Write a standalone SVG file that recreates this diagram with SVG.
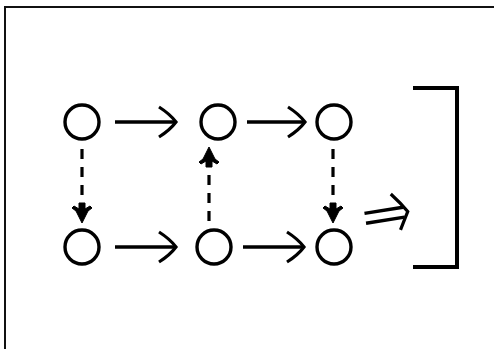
<svg xmlns="http://www.w3.org/2000/svg" width="494" height="349" viewBox="0 0 494 349">
  <style>
    .node { fill: none; stroke: #000; stroke-width: 3.4; }
    .edge { fill: none; stroke: #000; stroke-width: 3.4; }
    .dash { fill: none; stroke: #000; stroke-width: 3.2; stroke-dasharray: 10 8; }
    .head { fill: none; stroke: #000; stroke-width: 3.2; stroke-linecap: butt; }
    .fhead { fill: #000; stroke: #000; stroke-width: 1; }
  </style>
  <defs>
    <!-- curved open arrowhead, tip at origin pointing right -->
    <path id="ohead" d="M-17,-15 Q-6,-8 0,0 Q-6,8 -17,15"/>
    <!-- solid arrowhead for dashed arrows, tip at origin pointing down -->
    <path id="shead" d="M0,0 L-6,-12 L-10,-15 L-8,-17 L-3,-14 L-3,-20 L3,-20 L3,-14 L8,-17 L10,-15 L6,-12 Z"/>
  </defs>

  <rect x="5" y="7" width="520" height="380" fill="none" stroke="#111" stroke-width="2"/>

  <g id="connectors">
    <line class="edge" x1="115" y1="122" x2="176" y2="122"/>
    <use href="#ohead" class="head" transform="translate(176,122)"/>
    <line class="edge" x1="247" y1="122" x2="305" y2="122"/>
    <use href="#ohead" class="head" transform="translate(305,122)"/>
    <line class="edge" x1="115" y1="247" x2="176" y2="247"/>
    <use href="#ohead" class="head" transform="translate(176,247)"/>
    <line class="edge" x1="243" y1="247" x2="304" y2="247"/>
    <use href="#ohead" class="head" transform="translate(304,247)"/>

    <line class="dash" x1="82" y1="149" x2="82" y2="208"/>
    <use href="#shead" class="fhead" transform="translate(82,223)"/>
    <line class="dash" x1="209" y1="221" x2="209" y2="162"/>
    <use href="#shead" class="fhead" transform="translate(209,147) rotate(180)"/>
    <line class="dash" x1="333" y1="149" x2="333" y2="208"/>
    <use href="#shead" class="fhead" transform="translate(333,223)"/>
  </g>

  <g id="n1"><circle class="node" cx="82" cy="122" r="17"/></g>
  <g id="n2"><circle class="node" cx="218" cy="122" r="17"/></g>
  <g id="n3"><circle class="node" cx="334" cy="122" r="17"/></g>
  <g id="n4"><circle class="node" cx="82" cy="247" r="17"/></g>
  <g id="n5"><circle class="node" cx="214" cy="247" r="17"/></g>
  <g id="n6"><circle class="node" cx="334" cy="247" r="17"/></g>

  <!-- double arrow -->
  <g id="implies" transform="translate(386,215) rotate(-9)">
    <line class="edge" x1="-21" y1="-5" x2="18" y2="-5"/>
    <line class="edge" x1="-21" y1="5" x2="18" y2="5"/>
    <path class="head" d="M8,-20 Q16,-10 22,0 Q16,10 12,17"/>
  </g>

  <!-- bracket -->
  <path id="bracket" d="M413,88 H457 V267 H413" fill="none" stroke="#000" stroke-width="4"/>
</svg>
